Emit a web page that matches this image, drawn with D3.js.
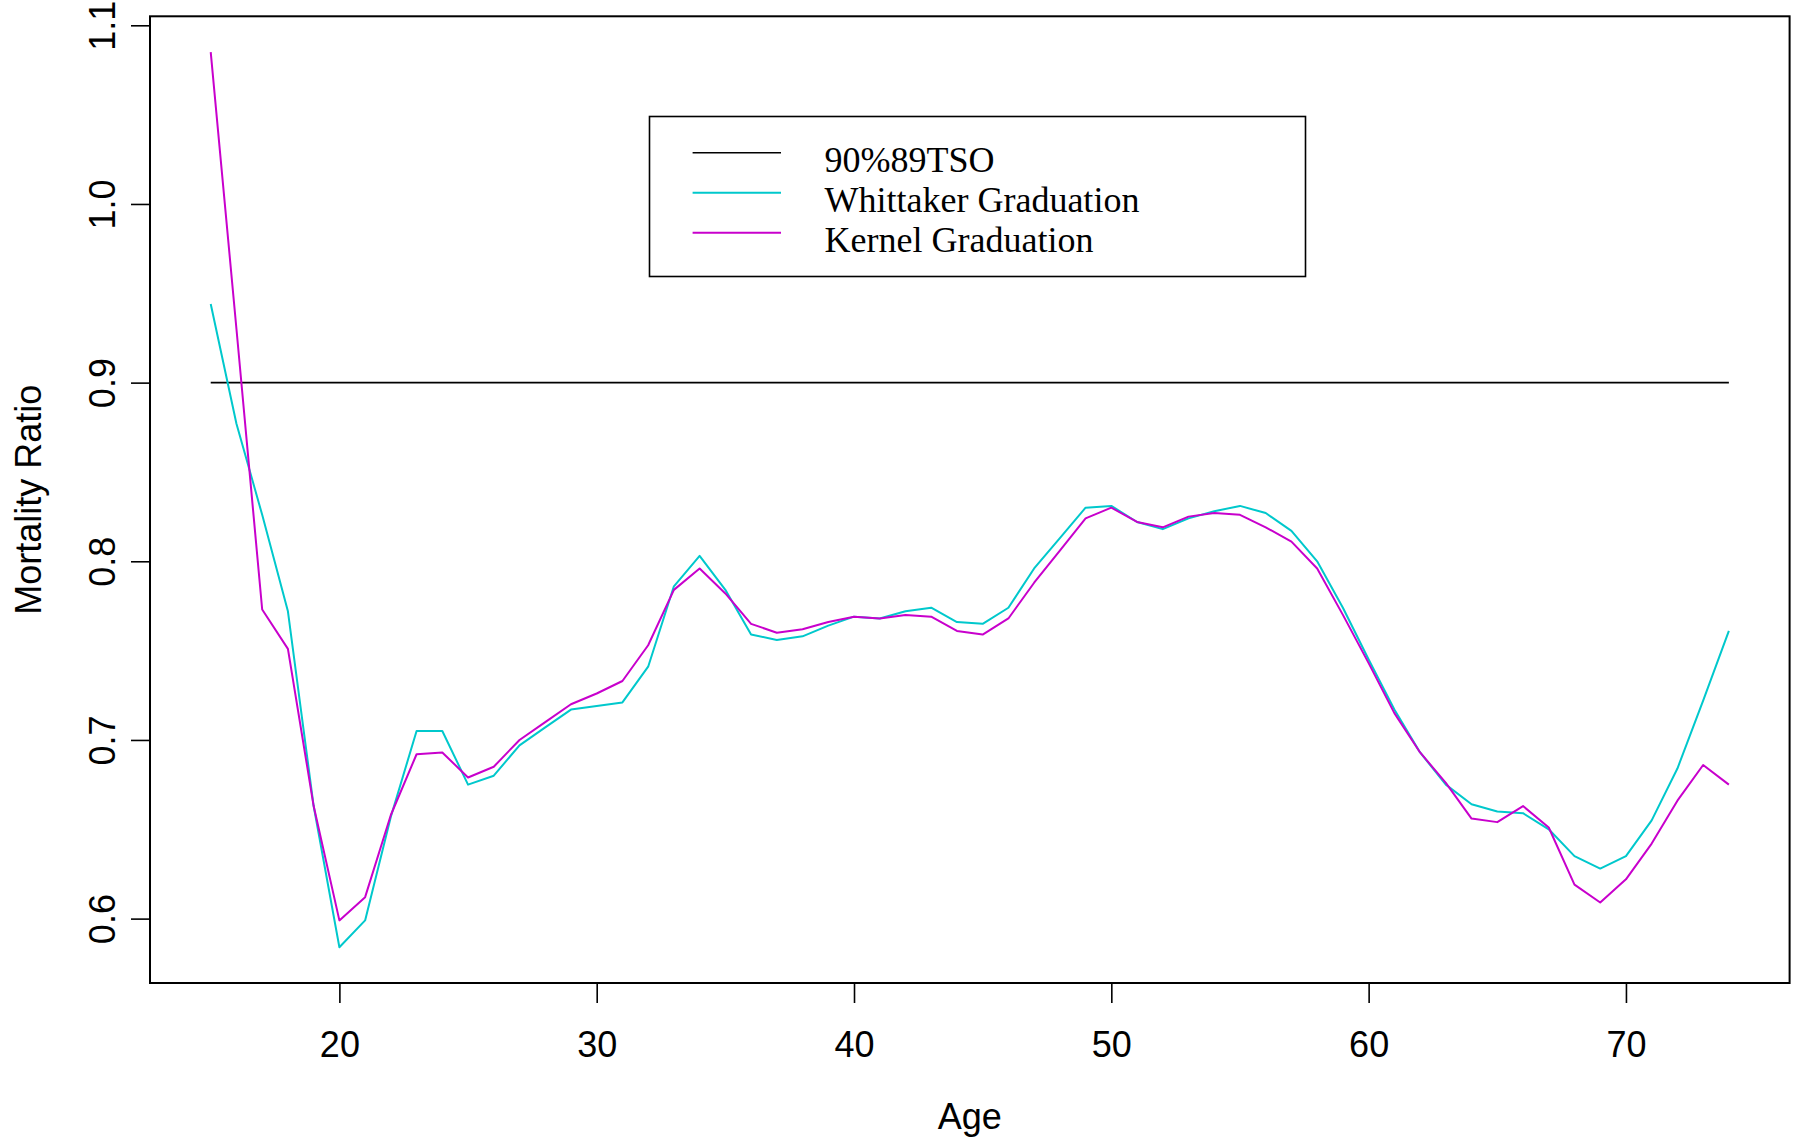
<!DOCTYPE html>
<html>
<head>
<meta charset="utf-8">
<script src="https://cdn.jsdelivr.net/npm/d3@7"></script>
<style>
  body { margin: 0; background: #ffffff; }
  svg { display: block; }
</style>
</head>
<body>
<svg id="chart" width="1798" height="1137"></svg>
<script>
// Graduated mortality ratios by age
const ages = [15,16,17,18,19,20,21,22,23,24,25,26,27,28,29,30,31,32,33,34,35,36,37,38,39,40,41,42,43,44,
              45,46,47,48,49,50,51,52,53,54,55,56,57,58,59,60,61,62,63,64,65,66,67,68,69,70,71,72,73,74];

const whittaker = [0.944,0.877,0.826,0.772,0.663,0.584,0.599,0.657,0.705,0.705,
                   0.675,0.680,0.697,0.707,0.717,0.719,0.721,0.741,0.786,0.803,
                   0.784,0.759,0.756,0.758,0.764,0.769,0.768,0.772,0.774,0.766,
                   0.765,0.774,0.796,0.813,0.830,0.831,0.822,0.818,0.824,0.828,
                   0.831,0.827,0.817,0.800,0.774,0.745,0.717,0.693,0.675,0.664,
                   0.660,0.659,0.650,0.635,0.628,0.635,0.655,0.684,0.722,0.761];

const kernel = [1.085,0.930,0.773,0.751,0.663,0.599,0.612,0.658,0.692,0.693,
                0.679,0.685,0.700,0.710,0.720,0.726,0.733,0.753,0.784,0.796,
                0.782,0.765,0.760,0.762,0.766,0.769,0.768,0.770,0.769,0.761,
                0.759,0.768,0.788,0.806,0.824,0.830,0.822,0.819,0.825,0.827,
                0.826,0.819,0.811,0.796,0.770,0.743,0.715,0.693,0.676,0.656,
                0.654,0.663,0.651,0.619,0.609,0.622,0.642,0.666,0.686,0.675];

// Standard table level (90% of 89TSO)
const standardLevel = 0.9;

const xTicks = [20, 30, 40, 50, 60, 70];
const yTicks = [0.6, 0.7, 0.8, 0.9, 1.0, 1.1];
const legendLabels = ["90%89TSO", "Whittaker Graduation", "Kernel Graduation"];
const seriesColors = ["#000000", "#00C8CC", "#C800CC"];

const W = 1798, H = 1137;
const plot = { left: 150, right: 1789.6, top: 16.3, bottom: 983 };

// Axis ranges padded by 4% on each side
const xExt = d3.extent(ages);
const xPad = (xExt[1] - xExt[0]) * 0.04;
const allY = whittaker.concat(kernel, [standardLevel]);
const yExt = d3.extent(allY);
const yPad = (yExt[1] - yExt[0]) * 0.04;

const x = d3.scaleLinear().domain([xExt[0] - xPad, xExt[1] + xPad]).range([plot.left, plot.right]);
const y = d3.scaleLinear().domain([yExt[0] - yPad, yExt[1] + yPad]).range([plot.bottom, plot.top]);

const svg = d3.select("#chart");
svg.append("rect").attr("width", W).attr("height", H).attr("fill", "#fff");

const sans = "'Liberation Sans', Arial, Helvetica, sans-serif";
const serif = "'Liberation Serif', 'Times New Roman', serif";

// Series lines
const line = d3.line().x((d, i) => x(ages[i])).y(d => y(d));

svg.append("path")
  .datum([ages[0], ages[ages.length - 1]])
  .attr("d", d3.line().x(d => x(d)).y(() => y(standardLevel)))
  .attr("fill", "none").attr("stroke", seriesColors[0]).attr("stroke-width", 1.6);

svg.append("path").datum(whittaker).attr("d", line)
  .attr("fill", "none").attr("stroke", seriesColors[1]).attr("stroke-width", 2)
  .attr("stroke-linejoin", "round");

svg.append("path").datum(kernel).attr("d", line)
  .attr("fill", "none").attr("stroke", seriesColors[2]).attr("stroke-width", 2)
  .attr("stroke-linejoin", "round");

// Plot frame
svg.append("rect")
  .attr("x", plot.left).attr("y", plot.top)
  .attr("width", plot.right - plot.left).attr("height", plot.bottom - plot.top)
  .attr("fill", "none").attr("stroke", "#000").attr("stroke-width", 2);

// X axis
const xAxis = svg.append("g")
  .attr("transform", `translate(0,${plot.bottom})`)
  .call(d3.axisBottom(x).tickValues(xTicks).tickSize(20).tickSizeOuter(0).tickPadding(0).tickFormat(d3.format("d")));
xAxis.select(".domain").remove();
xAxis.selectAll(".tick line").attr("stroke", "#000").attr("stroke-width", 1.6);
xAxis.selectAll(".tick text")
  .attr("y", 74).attr("dy", null)
  .attr("font-family", sans).attr("font-size", 36).attr("fill", "#000");

// Y axis
const yAxis = svg.append("g")
  .attr("transform", `translate(${plot.left},0)`)
  .call(d3.axisLeft(y).tickValues(yTicks).tickSize(19).tickSizeOuter(0).tickFormat(d3.format(".1f")));
yAxis.select(".domain").remove();
yAxis.selectAll(".tick line").attr("stroke", "#000").attr("stroke-width", 1.6);
yAxis.selectAll(".tick text")
  .attr("x", null).attr("dy", null)
  .attr("text-anchor", "middle")
  .attr("transform", "translate(-35,0) rotate(-90)")
  .attr("font-family", sans).attr("font-size", 36).attr("fill", "#000");

// Axis titles
svg.append("text")
  .attr("x", (plot.left + plot.right) / 2).attr("y", 1129)
  .attr("text-anchor", "middle")
  .attr("font-family", sans).attr("font-size", 36).attr("fill", "#000")
  .text("Age");

svg.append("text")
  .attr("transform", `translate(41,${(plot.top + plot.bottom) / 2}) rotate(-90)`)
  .attr("text-anchor", "middle")
  .attr("font-family", sans).attr("font-size", 36).attr("fill", "#000")
  .text("Mortality Ratio");

// Legend
const legend = svg.append("g");
legend.append("rect")
  .attr("x", 649.5).attr("y", 116.5).attr("width", 656).attr("height", 160)
  .attr("fill", "#fff").attr("stroke", "#000").attr("stroke-width", 1.6);

legendLabels.forEach((label, i) => {
  const ly = 152.7 + i * 40;
  legend.append("line")
    .attr("x1", 692.6).attr("x2", 781).attr("y1", ly).attr("y2", ly)
    .attr("stroke", seriesColors[i]).attr("stroke-width", i === 0 ? 1.6 : 2);
  legend.append("text")
    .attr("x", 824.5).attr("y", ly + 19)
    .attr("font-family", serif).attr("font-size", 36).attr("fill", "#000")
    .text(label);
});
</script>
</body>
</html>
